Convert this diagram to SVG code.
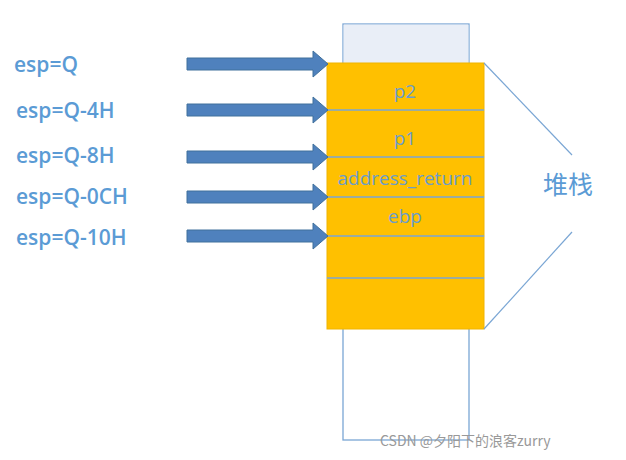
<svg xmlns="http://www.w3.org/2000/svg" width="626" height="460" viewBox="0 0 626 460">
<style>
.lbl{font-family:"Open Sans","Liberation Sans",sans-serif;font-size:21px;fill:#5b9bd5;font-weight:600}
.cell{font-family:"Open Sans","Liberation Sans",sans-serif;font-size:19px;fill:#6a9ccc;text-anchor:middle}
.sep{stroke:#7aa6d4;stroke-width:1.3}
</style>
<defs>
<polygon id="arr" points="0,-6 126,-6 126,-13 141,0 126,13 126,6 0,6" fill="#4f81bd" stroke="#41719c" stroke-width="1"/>
</defs>
<rect width="626" height="460" fill="#fff"/>
<g id="outer"><rect x="343" y="24" width="126" height="416" fill="#fff" stroke="#7aa6d4" stroke-width="1.3"/><rect x="343.6" y="24.6" width="124.8" height="39" fill="#e9eef7"/></g>
<g id="stack">
<rect x="327" y="63" width="157" height="266" fill="#ffc000" stroke="#f0b400"/>
<line class="sep" x1="327" y1="110" x2="484" y2="110"/>
<line class="sep" x1="327" y1="157" x2="484" y2="157"/>
<line class="sep" x1="327" y1="197" x2="484" y2="197"/>
<line class="sep" x1="327" y1="236" x2="484" y2="236"/>
<line class="sep" x1="327" y1="278" x2="484" y2="278"/>
<text class="cell" x="405" y="98">p2</text>
<text class="cell" x="405" y="145">p1</text>
<text class="cell" x="405" y="185">address_return</text>
<text class="cell" x="405" y="223">ebp</text>
</g>
<g id="labels">
<text class="lbl" x="14" y="72">esp=Q</text>
<text class="lbl" x="16" y="118">esp=Q-4H</text>
<text class="lbl" x="16" y="163">esp=Q-8H</text>
<text class="lbl" x="16" y="204">esp=Q-0CH</text>
<text class="lbl" x="16" y="245">esp=Q-10H</text>
</g>
<g id="connectors">
<use href="#arr" x="187" y="64"/>
<use href="#arr" x="187" y="110"/>
<use href="#arr" x="187" y="157"/>
<use href="#arr" x="187" y="197"/>
<use href="#arr" x="187" y="236"/>
<polyline points="484,63 572,155" fill="none" stroke="#7aa6d4" stroke-width="1.2"/>
<polyline points="484,329 572,232" fill="none" stroke="#7aa6d4" stroke-width="1.2"/>
</g>
<g id="heap"><text x="543" y="194" font-family="'Noto Sans CJK SC',sans-serif" font-size="25" fill="#5b9bd5">堆栈</text></g>
<text x="380" y="446" font-family="'Noto Sans CJK SC',sans-serif" font-size="14" fill="#999">CSDN @夕阳下的浪客zurry</text>
</svg>
